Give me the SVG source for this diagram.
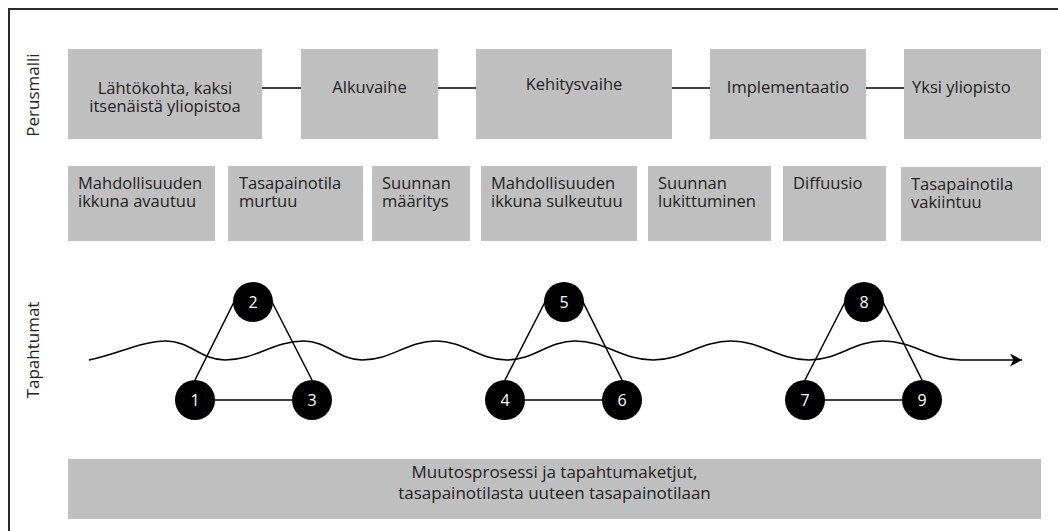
<svg xmlns="http://www.w3.org/2000/svg" width="1058" height="531" viewBox="0 0 1058 531">
<style>
.box{fill:#bfbfbf}
.t{font-family:"Open Sans","Noto Sans","Liberation Sans",sans-serif;font-size:16.5px;fill:#222}
.side{font-size:17px}
.c{text-anchor:middle}
.conn{stroke:#000;stroke-width:1.5;fill:none}
.dot{fill:#000}
.num{font-family:"Open Sans","Noto Sans","Liberation Sans",sans-serif;font-size:16px;fill:#fff;text-anchor:middle}
</style>
<defs>
<marker id="arr" markerUnits="userSpaceOnUse" markerWidth="14" markerHeight="14" refX="12" refY="6.5" orient="auto">
<path d="M0,0 L12,6.5 L0,13 L3.5,6.5 z" fill="#000"/>
</marker>
</defs>
<rect width="1058" height="531" fill="#fff"/>
<path d="M9,531 V9 H1058" fill="none" stroke="#2a2a2a" stroke-width="2"/>
<text class="t side c" transform="translate(39,95) rotate(-90)">Perusmalli</text>
<text class="t side c" transform="translate(39,350) rotate(-90)">Tapahtumat</text>

<g id="connectors">
<line class="conn" x1="262" y1="88" x2="301" y2="88"/>
<line class="conn" x1="438" y1="88" x2="476" y2="88"/>
<line class="conn" x1="672" y1="88" x2="710" y2="88"/>
<line class="conn" x1="866" y1="88" x2="904" y2="88"/>
<path class="conn" stroke-width="1.8" marker-end="url(#arr)" d="M89,360 C118,354 142,341 166,341 C190,341 201,360 225,360 C256,360 273,341 304,341 C327,341 339,360 362,360 C392,360 407,341 436,341 C464,341 479,360 507,360 C534,360 548,341 575,341 C606,341 622,360 653,360 C684,360 700,341 731,341 C762,341 778,360 809,360 C839,360 853,341 883,341 C914,341 930,360 961,360 L1022,360"/>
<line class="conn" x1="195" y1="400" x2="312" y2="400"/>
<line class="conn" x1="195" y1="380" x2="234" y2="302"/>
<line class="conn" x1="272" y1="302" x2="312" y2="380"/>
<line class="conn" x1="505" y1="400" x2="622" y2="400"/>
<line class="conn" x1="505" y1="380" x2="545" y2="302"/>
<line class="conn" x1="583" y1="302" x2="622" y2="380"/>
<line class="conn" x1="805" y1="400" x2="922" y2="400"/>
<line class="conn" x1="805" y1="380" x2="845" y2="302"/>
<line class="conn" x1="883" y1="302" x2="922" y2="380"/>
</g>

<g id="n-lahtokohta"><rect class="box" x="68" y="49" width="194" height="90"/><text class="t c" x="165" y="94">Lähtökohta, kaksi</text><text class="t c" x="165" y="112">itsenäistä yliopistoa</text></g>
<g id="n-alkuvaihe"><rect class="box" x="301" y="49" width="137" height="90"/><text class="t c" x="369.5" y="93">Alkuvaihe</text></g>
<g id="n-kehitysvaihe"><rect class="box" x="476" y="49" width="196" height="90"/><text class="t c" x="574" y="90">Kehitysvaihe</text></g>
<g id="n-implementaatio"><rect class="box" x="710" y="49" width="156" height="90"/><text class="t c" x="788" y="93">Implementaatio</text></g>
<g id="n-yksi"><rect class="box" x="904" y="49" width="137" height="90"/><text class="t" x="912" y="93">Yksi yliopisto</text></g>

<g id="n-b1"><rect class="box" x="68" y="166" width="147" height="75"/><text class="t" x="78" y="189">Mahdollisuuden</text><text class="t" x="78" y="207">ikkuna avautuu</text></g>
<g id="n-b2"><rect class="box" x="228" y="166" width="135" height="75"/><text class="t" x="239" y="189">Tasapainotila</text><text class="t" x="239" y="207">murtuu</text></g>
<g id="n-b3"><rect class="box" x="372" y="166" width="98" height="75"/><text class="t" x="382" y="189">Suunnan</text><text class="t" x="382" y="207">määritys</text></g>
<g id="n-b4"><rect class="box" x="481" y="166" width="156" height="75"/><text class="t" x="491" y="189">Mahdollisuuden</text><text class="t" x="491" y="207">ikkuna sulkeutuu</text></g>
<g id="n-b5"><rect class="box" x="648" y="166" width="123" height="75"/><text class="t" x="658" y="189">Suunnan</text><text class="t" x="658" y="207">lukittuminen</text></g>
<g id="n-b6"><rect class="box" x="783" y="166" width="103" height="75"/><text class="t" x="793" y="189">Diffuusio</text></g>
<g id="n-b7"><rect class="box" x="901" y="167" width="140" height="74"/><text class="t" x="911" y="190">Tasapainotila</text><text class="t" x="911" y="208">vakiintuu</text></g>

<g id="e1"><circle class="dot" cx="195" cy="400" r="20"/><text class="num" x="195" y="406">1</text></g>
<g id="e2"><circle class="dot" cx="253" cy="302" r="20"/><text class="num" x="253" y="308">2</text></g>
<g id="e3"><circle class="dot" cx="312" cy="400" r="20"/><text class="num" x="312" y="406">3</text></g>
<g id="e4"><circle class="dot" cx="505" cy="400" r="20"/><text class="num" x="505" y="406">4</text></g>
<g id="e5"><circle class="dot" cx="564" cy="302" r="20"/><text class="num" x="564" y="308">5</text></g>
<g id="e6"><circle class="dot" cx="622" cy="400" r="20"/><text class="num" x="622" y="406">6</text></g>
<g id="e7"><circle class="dot" cx="805" cy="400" r="20"/><text class="num" x="805" y="406">7</text></g>
<g id="e8"><circle class="dot" cx="864" cy="302" r="20"/><text class="num" x="864" y="308">8</text></g>
<g id="e9"><circle class="dot" cx="922" cy="400" r="20"/><text class="num" x="922" y="406">9</text></g>

<g id="n-muutos"><rect class="box" x="68" y="459" width="973" height="60"/><text class="t c" x="554.5" y="478" style="font-size:17px">Muutosprosessi ja tapahtumaketjut,</text><text class="t c" x="554.5" y="499" style="font-size:17px">tasapainotilasta uuteen tasapainotilaan</text></g>
</svg>
